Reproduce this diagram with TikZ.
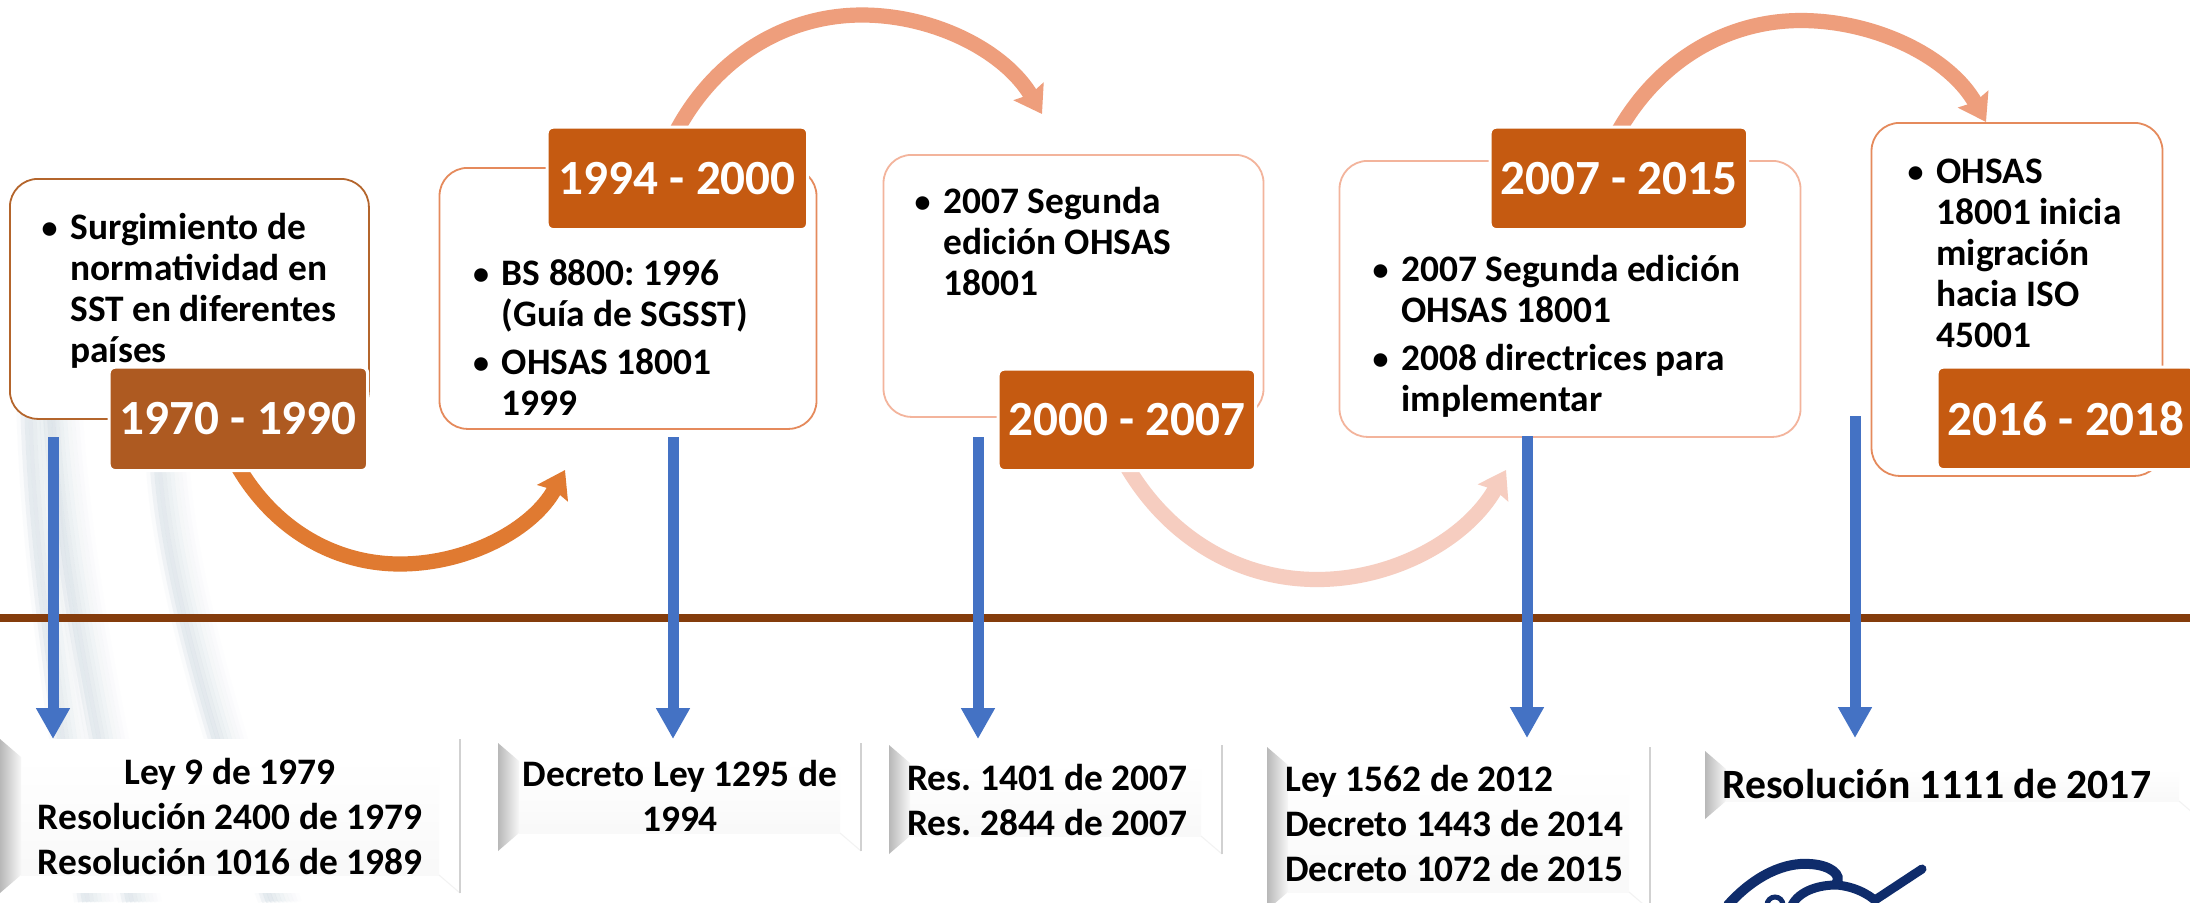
\documentclass[tikz,border=0pt]{standalone}
\usepackage{fontspec}
\setmainfont{Carlito}
\frenchspacing
\usetikzlibrary{arrows.meta}
\definecolor{tagA}{HTML}{AE5A21}
\definecolor{tagB}{HTML}{C55A11}
\definecolor{lineA}{HTML}{B4652C}
\definecolor{lineB}{HTML}{E58A5C}
\definecolor{lineC}{HTML}{F3B49C}
\definecolor{arcA}{HTML}{E07A31}
\definecolor{arcB}{HTML}{EE9E7C}
\definecolor{arcC}{HTML}{F6CDC0}
\definecolor{bluearrow}{HTML}{4472C4}
\definecolor{timeline}{HTML}{843C0C}
\definecolor{logoblue}{HTML}{0F2C6B}
\definecolor{swoosh}{HTML}{AFC2CE}
\tikzset{
  infobox/.style={draw,fill=white,rounded corners=14pt,line width=.9pt},
  tagbox/.style={draw=white,line width=1.6pt,rounded corners=3pt,text=white,inner sep=0pt,
    font=\fontsize{24.6}{28}\selectfont\bfseries,anchor=north west},
  boxtext/.style={inner sep=0pt,align=left,anchor=north west,
    font=\fontsize{18.7}{20.5}\selectfont\bfseries},
  lawtext/.style={inner sep=0pt,font=\fontsize{18.7}{22.5}\selectfont\bfseries},
  drop/.style={bluearrow,line width=5.5pt,-{Triangle[length=15.5pt,width=16pt]}},
  arc/.style={line width=7.6pt,-{Stealth[length=13pt,width=17pt,inset=1.6pt]}},
  swooshline/.style={swoosh,line width=4pt,line cap=butt},
}
\newcommand{\bul}{\llap{\raisebox{.6pt}{\fontsize{16}{16}\selectfont •}\hspace{6.4pt}}}
\newcommand{\swooshband}[8]{% start, c1, c2, end
  \foreach \o/\a in {0/.05,4/.14,8/.20,12/.17,16/.13,20/.10,24/.07,28/.05,32/.035,36/.02}{
    \draw[swooshline,opacity=\a] (#1+\o,#2) .. controls (#3+\o,#4) and (#5+\o,#6) .. (#7+\o,#8);}}
\newcommand{\bevel}[5]{% x0 y0 x1 y1 w
  \fill[white] (#1,#2) rectangle (#3,#4);
  \shade[top color=white,bottom color=black!2.5] (#1+#5,#2+18) rectangle (#3-#5,#4-18);
  \shade[left color=black!28,right color=black!3] (#1,#2) -- (#1+#5,#2+18) -- (#1+#5,#4-18) -- (#1,#4) -- cycle;
  \draw[black!5,line width=.5pt] (#3-#5,#4-18) -- (#3,#4);
  \draw[black!18,line width=.7pt] (#3,#2) -- (#3,#4);
}
\begin{document}
\begin{tikzpicture}[x=0.5pt,y=-0.5pt]
\useasboundingbox (0,0) rectangle (2190,902);
\fill[white] (0,0) rectangle (2190,902);
% background swooshes
\swooshband{20}{400}{24}{540}{40}{660}{78}{902}
\swooshband{42}{400}{50}{540}{72}{660}{122}{902}
\swooshband{150}{468}{156}{560}{190}{700}{262}{902}

% timeline
\fill[timeline] (0,614) rectangle (2190,622);

% info boxes
\node[infobox,draw=lineA,minimum width=359pt*.5,minimum height=240pt*.5,inner sep=0pt,anchor=north west] (box1) at (9,178) {};
\node[infobox,draw=lineB,minimum width=377pt*.5,minimum height=261pt*.5,inner sep=0pt,anchor=north west] (box2) at (438.6,167) {};
\node[infobox,draw=lineC,minimum width=380pt*.5,minimum height=262pt*.5,inner sep=0pt,anchor=north west] (box3) at (882.6,154) {};
\node[infobox,draw=lineC,minimum width=461pt*.5,minimum height=276pt*.5,inner sep=0pt,anchor=north west] (box4) at (1338.6,160) {};
\node[infobox,draw=lineB,minimum width=291pt*.5,minimum height=353pt*.5,inner sep=0pt,anchor=north west] (box5) at (1870.6,122) {};

% box texts
\node[boxtext,anchor=north west] (t1) at (70,213) {\bul Surgimiento de\\normatividad en\\SST en diferentes\\países};
\node[boxtext] (t2) at (501.5,259) {\bul BS 8800: 1996\\(Guía de SGSST)\\[3.5pt]\bul OHSAS 18001\\1999};
\node[boxtext] (t3) at (943,187) {\bul 2007 Segunda\\edición OHSAS\\18001};
\node[boxtext] (t4) at (1401,255) {\bul 2007 Segunda edición\\OHSAS 18001\\[3.5pt]\bul 2008 directrices para\\implementar};
\node[boxtext] (t5) at (1936,159) {\bul OHSAS\\18001 inicia\\migración\\hacia ISO\\45001};

% curved arrows
\coordinate (a1s) at (237,465); \coordinate (a1m) at (400,564); \coordinate (a1e) at (565,470);
\coordinate (a2s) at (676,132); \coordinate (a2m) at (862,15);  \coordinate (a2e) at (1042,114);
\coordinate (a3s) at (1126,465);\coordinate (a3m) at (1317,579.5);\coordinate (a3e) at (1506,470);
\coordinate (a4s) at (1618,132);\coordinate (a4m) at (1801,20.5);\coordinate (a4e) at (1986,122);
\draw[arc,arcA] (a1s) .. controls (273.7,529) and (334.3,564) .. (a1m) .. controls (467.5,564) and (533,529.4) .. (a1e);
\draw[arc,arcB] (a2s) .. controls (715.5,57.4) and (785.6,15) .. (a2m) .. controls (934.6,15) and (1005,51.5) .. (a2e);
\draw[arc,arcC] (a3s) .. controls (1168.8,538.7) and (1239.8,579.5) .. (a3m) .. controls (1395.2,579.5) and (1467.5,538) .. (a3e);
\draw[arc,arcB] (a4s) .. controls (1658.4,60.4) and (1726.8,20.5) .. (a4m) .. controls (1875.4,20.5) and (1949.6,57.1) .. (a4e);

% tags
\node[tagbox,fill=tagA,minimum width=258.5pt*.5,minimum height=103.5pt*.5] (tag1) at (107.5,365.5) {1970 - 1990};
\node[tagbox,fill=tagB,minimum width=260.5pt*.5,minimum height=102.5pt*.5] (tag2) at (545.5,125.5) {1994 - 2000};
\node[tagbox,fill=tagB,minimum width=257.5pt*.5,minimum height=101.5pt*.5] (tag3) at (996.5,367.5) {2000 - 2007};
\node[tagbox,fill=tagB,minimum width=257.5pt*.5,minimum height=102.5pt*.5] (tag4) at (1488.5,125.5) {2007 - 2015};
\node[tagbox,fill=tagB,minimum width=258.5pt*.5,minimum height=102.5pt*.5] (tag5) at (1935.5,365.5) {2016 - 2018};

% law boxes
\bevel{0}{739}{460}{893}{21}
\bevel{498}{743}{861}{851}{21}
\bevel{889}{745}{1222}{854}{21}
\bevel{1267}{747}{1650}{910}{21}
\bevel{1705}{751}{2200}{819}{21}
\node[lawtext,align=center,anchor=north] (law1) at (230,757.5) {Ley 9 de 1979\\Resolución 2400 de 1979\\Resolución 1016 de 1989};
\node[lawtext,align=center,anchor=north] (law2) at (680,760) {Decreto Ley 1295 de\\1994};
\node[lawtext,align=left,anchor=north west] (law3) at (907,763.5) {Res. 1401 de 2007\\Res. 2844 de 2007};
\node[lawtext,align=left,anchor=north west] (law4) at (1285,764.5) {Ley 1562 de 2012\\Decreto 1443 de 2014\\Decreto 1072 de 2015};
\node[lawtext,font=\fontsize{20.85}{24}\selectfont\bfseries,align=left,anchor=north west] (law5) at (1722,769) {Resolución 1111 de 2017};

% blue arrows
\coordinate (d1s) at (53,437);   \coordinate (d1e) at (53,739);
\coordinate (d2s) at (673,437);  \coordinate (d2e) at (673,739);
\coordinate (d3s) at (978,437);  \coordinate (d3e) at (978,739);
\coordinate (d4s) at (1527,436); \coordinate (d4e) at (1527,738);
\coordinate (d5s) at (1855,416); \coordinate (d5e) at (1855,738);
\foreach \n in {1,...,5}{\draw[drop] (d\n s) -- (d\n e);}

% logo (cut by the lower edge)
\begin{scope}
\clip (1680,830) rectangle (2000,902);
\draw[logoblue,line width=5pt,line cap=round] (1728,905) .. controls (1755,875) and (1785,862) .. (1810,864)
  .. controls (1830,865) and (1843,875) .. (1836,884);
\draw[logoblue,line width=4.5pt] (1792,905) .. controls (1800,890) and (1820,885) .. (1836,885)
  .. controls (1852,886) and (1868,893) .. (1878,903);
\draw[logoblue,line width=4.5pt,line cap=round] (1875,900) -- (1922,869);
\draw[logoblue,line width=2.5pt] (1775,905) circle (8);
\end{scope}
\end{tikzpicture}
\end{document}
